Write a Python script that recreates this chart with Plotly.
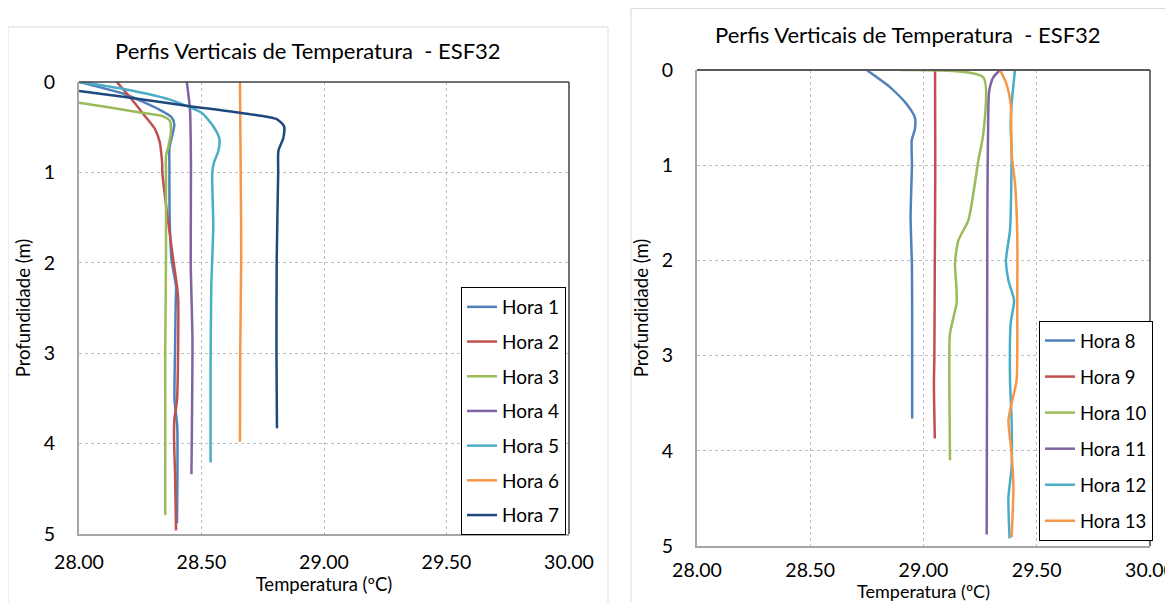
import plotly.graph_objects as go

# eixo comum
TICK_T = [28.0, 28.5, 29.0, 29.5, 30.0]
TICK_D = [0, 1, 2, 3, 4, 5]

# ESF32 - painel esquerdo (horas 1 a 7): temperatura (ºC) e profundidade (m)
h1_t = [28.0, 28.188, 28.324, 28.378, 28.389, 28.378, 28.369, 28.369, 28.37, 28.378, 28.396, 28.395, 28.392, 28.39, 28.401, 28.40]
h1_d = [0, 0.136, 0.30, 0.39, 0.47, 0.62, 0.73, 0.93, 1.5, 1.97, 2.26, 2.41, 2.96, 3.52, 3.81, 4.88]
h2_t = [28.154, 28.215, 28.269, 28.31, 28.33, 28.337, 28.34, 28.34, 28.358, 28.385, 28.40, 28.405, 28.40, 28.389, 28.388, 28.392, 28.396]
h2_d = [0, 0.19, 0.376, 0.52, 0.67, 0.82, 0.93, 1.0, 1.42, 1.97, 2.26, 2.41, 3.52, 3.74, 3.96, 4.33, 4.96]
h3_t = [28.0, 28.12, 28.256, 28.344, 28.371, 28.375, 28.365, 28.355, 28.355, 28.355, 28.352, 28.352]
h3_d = [0.23, 0.28, 0.34, 0.38, 0.43, 0.56, 0.71, 0.82, 1.0, 1.97, 3.0, 4.79]
h4_t = [28.44, 28.453, 28.457, 28.456, 28.463, 28.459]
h4_d = [0, 0.3, 0.93, 2.0, 2.85, 4.34]
h5_t = [28.004, 28.188, 28.365, 28.5, 28.548, 28.573, 28.569, 28.551, 28.544, 28.548, 28.54, 28.537, 28.537]
h5_d = [0, 0.08, 0.19, 0.34, 0.49, 0.63, 0.76, 0.89, 1.0, 1.6, 2.26, 3.2, 4.21]
h6_t = [28.657, 28.66, 28.662, 28.658, 28.657]
h6_d = [0, 1.0, 1.9, 3.0, 3.98]
h7_t = [28.0, 28.188, 28.446, 28.657, 28.807, 28.837, 28.834, 28.814, 28.813, 28.807, 28.806, 28.808]
h7_d = [0.1, 0.166, 0.265, 0.34, 0.41, 0.49, 0.62, 0.76, 1.0, 1.97, 3.0, 3.83]

# painel direito (horas 8 a 13)
h8_t = [28.749, 28.852, 28.926, 28.962, 28.962, 28.948, 28.948, 28.949, 28.943, 28.949, 28.95, 28.95]
h8_d = [0, 0.18, 0.36, 0.50, 0.62, 0.74, 0.88, 1.0, 1.54, 2.07, 3.0, 3.66]
h9_t = [29.051, 29.052, 29.05, 29.048, 29.046, 29.05]
h9_d = [0, 1.0, 2.0, 3.0, 3.3, 3.87]
h10_t = [28.896, 29.264, 29.264, 29.242, 29.227, 29.198, 29.154, 29.139, 29.146, 29.146, 29.117, 29.114, 29.117]
h10_d = [0, 0.077, 0.67, 0.95, 1.19, 1.58, 1.79, 2.03, 2.3, 2.45, 2.77, 3.26, 4.10]
h11_t = [29.338, 29.308, 29.29, 29.286, 29.282, 29.279]
h11_d = [0, 0.077, 0.22, 0.43, 1.5, 4.88]
h12_t = [29.404, 29.389, 29.385, 29.389, 29.382, 29.364, 29.375, 29.4, 29.385, 29.382, 29.389, 29.389, 29.375, 29.38]
h12_d = [0, 0.36, 0.6, 0.84, 1.68, 2.0, 2.21, 2.42, 2.66, 3.26, 3.68, 4.17, 4.49, 4.92]
h13_t = [29.338, 29.367, 29.385, 29.389, 29.404, 29.414, 29.414, 29.411, 29.389, 29.375, 29.389, 29.397, 29.389]
h13_d = [0, 0.15, 0.36, 0.88, 1.19, 1.72, 2.45, 3.26, 3.5, 3.68, 4.03, 4.38, 4.91]

left_series = [
    ("Hora 1", h1_t, h1_d, "#4F81BD"),
    ("Hora 2", h2_t, h2_d, "#C0504D"),
    ("Hora 3", h3_t, h3_d, "#9BBB59"),
    ("Hora 4", h4_t, h4_d, "#8064A2"),
    ("Hora 5", h5_t, h5_d, "#4BACC6"),
    ("Hora 6", h6_t, h6_d, "#F79646"),
    ("Hora 7", h7_t, h7_d, "#1F497D"),
]
right_series = [
    ("Hora 8", h8_t, h8_d, "#4F81BD"),
    ("Hora 9", h9_t, h9_d, "#C0504D"),
    ("Hora 10", h10_t, h10_d, "#9BBB59"),
    ("Hora 11", h11_t, h11_d, "#8064A2"),
    ("Hora 12", h12_t, h12_d, "#4BACC6"),
    ("Hora 13", h13_t, h13_d, "#F79646"),
]

# a página tem margem de 8px no body: a figura ocupa 8..1165 x 8..602
OFF = 8
W, H = 1157, 594
FONT = "Lato, Carlito, sans-serif"


def px_x(v):
    return (v - OFF) / W


def px_y(v):
    return 1 - (v - OFF) / H


fig = go.Figure()

for name, t, d, c in left_series:
    fig.add_trace(go.Scatter(
        x=t, y=d, name=name, mode="lines", xaxis="x", yaxis="y",
        line=dict(color=c, width=2.5, shape="spline", smoothing=0.6),
        legend="legend", legendgroup=name,
    ))
for name, t, d, c in right_series:
    fig.add_trace(go.Scatter(
        x=t, y=d, name=name, mode="lines", xaxis="x2", yaxis="y2",
        line=dict(color=c, width=2.5, shape="spline", smoothing=0.6),
        legend="legend2", legendgroup=name,
    ))

axis_x = dict(
    range=[28, 30], tickvals=TICK_T, tickformat=".2f",
    showgrid=True, gridcolor="#BFBFBF", griddash="dot", gridwidth=1,
    zeroline=False, showline=True, linecolor="#A6A6A6", linewidth=2,
    ticks="", ticklabelstandoff=10, automargin=False, ticklabeloverflow="allow",
    tickfont=dict(size=19.5, color="#000000", family=FONT),
    title=dict(text="Temperatura (ºC)", font=dict(size=18.5, color="#000000", family=FONT), standoff=2),
)
axis_y = dict(
    range=[5, 0], tickvals=TICK_D,
    showgrid=True, gridcolor="#BFBFBF", griddash="dot", gridwidth=1,
    zeroline=False, showline=True, linecolor="#A6A6A6", linewidth=2,
    ticks="", ticklabelstandoff=18, automargin=False,
    tickfont=dict(size=19.5, color="#000000", family=FONT),
    title=dict(text="Profundidade (m)", font=dict(size=18.5, color="#000000", family=FONT), standoff=8),
)

fig.update_layout(
    width=W, height=H,
    margin=dict(l=0, r=0, t=0, b=0),
    paper_bgcolor="white", plot_bgcolor="white",
    font=dict(family=FONT, color="#000000"),
    xaxis=dict(axis_x, domain=[px_x(79), px_x(569)], anchor="y"),
    yaxis=dict(axis_y, domain=[px_y(534), px_y(82)], anchor="x"),
    xaxis2=dict(axis_x, domain=[px_x(697), px_x(1150)], anchor="y2", ticklabelstandoff=6,
                title=dict(axis_x["title"], font=dict(size=18, color="#000000", family=FONT), standoff=1)),
    yaxis2=dict(axis_y, domain=[px_y(546), px_y(70)], anchor="x2"),
    legend=dict(
        x=px_x(461), y=px_y(287), xanchor="left", yanchor="top",
        bgcolor="white", bordercolor="#000000", borderwidth=1,
        font=dict(size=19, family=FONT), itemwidth=30, tracegroupgap=7,
    ),
    legend2=dict(
        x=px_x(1039), y=px_y(321), xanchor="left", yanchor="top",
        bgcolor="white", bordercolor="#000000", borderwidth=1,
        font=dict(size=18.5, family=FONT), itemwidth=30, tracegroupgap=9,
    ),
    annotations=[
        dict(text="Perfis Verticais de Temperatura  - ESF32", xref="paper", yref="paper",
             x=px_x(308), y=px_y(50), xanchor="center", yanchor="middle", showarrow=False,
             font=dict(size=22, family=FONT, color="#000000")),
        dict(text="Perfis Verticais de Temperatura  - ESF32", xref="paper", yref="paper",
             x=px_x(908), y=px_y(35), xanchor="center", yanchor="middle", showarrow=False,
             font=dict(size=22, family=FONT, color="#000000")),
    ],
    shapes=[
        # molduras dos gráficos
        dict(type="rect", xref="paper", yref="paper", x0=px_x(8), x1=px_x(608),
             y0=px_y(605), y1=px_y(27), line=dict(color="#D9D9D9", width=1)),
        dict(type="rect", xref="paper", yref="paper", x0=px_x(631), x1=px_x(1180),
             y0=px_y(615), y1=px_y(8.5), line=dict(color="#D9D9D9", width=1)),
        # borda superior e direita da área de plotagem
        dict(type="line", xref="x domain", yref="y domain", x0=0, x1=1, y0=1, y1=1,
             line=dict(color="#404040", width=1.5)),
        dict(type="line", xref="x domain", yref="y domain", x0=1, x1=1, y0=0, y1=1,
             line=dict(color="#404040", width=1.5)),
        dict(type="line", xref="x2 domain", yref="y2 domain", x0=0, x1=1, y0=1, y1=1,
             line=dict(color="#595959", width=2)),
        dict(type="line", xref="x2 domain", yref="y2 domain", x0=1, x1=1, y0=0, y1=1,
             line=dict(color="#404040", width=1.5)),
    ],
)

fig.write_html("out.html")
